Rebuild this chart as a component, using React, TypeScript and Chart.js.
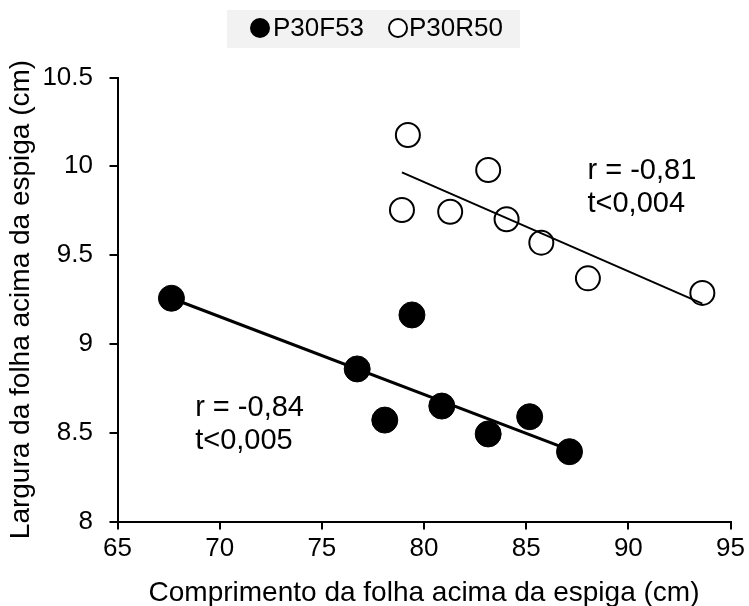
import React, { useEffect, useRef } from "react";
import { Chart, registerables } from "chart.js";

Chart.register(...registerables);

// ---- Data ----
const seriesNames = ["P30F53", "P30R50"];

const f53X = [67.64, 76.73, 78.08, 79.41, 80.87, 83.14, 85.17, 87.12];
const f53Y = [9.257, 8.859, 8.571, 9.163, 8.65, 8.493, 8.59, 8.393];

const r50X = [79.21, 83.14, 78.92, 81.28, 84.04, 85.74, 88.02, 93.62];
const r50Y = [10.176, 9.979, 9.754, 9.744, 9.702, 9.57, 9.369, 9.287];

// fitted trend lines (end points)
const trendF53X = [67.64, 87.12];
const trendF53Y = [9.257, 8.403];
const trendR50X = [78.92, 93.62];
const trendR50Y = [9.966, 9.227];

const xTickValues = [65, 70, 75, 80, 85, 90, 95];
const yTickValues = [8, 8.5, 9, 9.5, 10, 10.5];

const statsF53 = ["r = -0,84", "t<0,005"];
const statsR50 = ["r = -0,81", "t<0,004"];

const xTitle = "Comprimento da folha acima da espiga (cm)";
const yTitle = "Largura da folha acima da espiga (cm)";

// ---- helpers ----
const toPoints = (xs: number[], ys: number[]) => xs.map((x, i) => ({ x, y: ys[i] }));

const FONT = '"Liberation Sans", Arial, sans-serif';

// annotation placement (in data units)
const annotations = [
  { lines: statsF53, x: 68.8, y: 8.639 },
  { lines: statsR50, x: 88.0, y: 9.974 },
];

const annotationPlugin = {
  id: "statsText",
  afterDatasetsDraw(chart: any) {
    const { ctx, scales } = chart;
    ctx.save();
    ctx.fillStyle = "#000";
    ctx.font = `29px ${FONT}`;
    ctx.textAlign = "left";
    ctx.textBaseline = "middle";
    annotations.forEach((a) => {
      const px = scales.x.getPixelForValue(a.x);
      const py = scales.y.getPixelForValue(a.y);
      a.lines.forEach((t, i) => ctx.fillText(t, px, py + i * 33));
    });
    ctx.restore();
  },
};

const legendPlugin = {
  id: "boxLegend",
  afterDraw(chart: any) {
    const { ctx } = chart;
    ctx.save();
    ctx.fillStyle = "#f2f2f2";
    ctx.fillRect(227, 10, 293, 38);
    const cy = 28;
    ctx.font = `26px ${FONT}`;
    ctx.textBaseline = "middle";
    ctx.textAlign = "left";
    // item 1: filled circle
    ctx.beginPath();
    ctx.arc(260, cy, 10, 0, Math.PI * 2);
    ctx.fillStyle = "#000";
    ctx.fill();
    ctx.fillText(seriesNames[0], 273, cy + 1);
    // item 2: open circle
    ctx.beginPath();
    ctx.arc(398, cy, 9, 0, Math.PI * 2);
    ctx.fillStyle = "#fff";
    ctx.fill();
    ctx.lineWidth = 2;
    ctx.strokeStyle = "#000";
    ctx.stroke();
    ctx.fillStyle = "#000";
    ctx.fillText(seriesNames[1], 409, cy + 1);
    ctx.restore();
  },
};

export default function App() {
  const ref = useRef<HTMLCanvasElement | null>(null);

  useEffect(() => {
    if (!ref.current) return;
    Chart.defaults.font.family = FONT;
    Chart.defaults.color = "#000";

    const chart = new Chart(ref.current, {
      type: "scatter",
      data: {
        datasets: [
          {
            type: "line",
            label: seriesNames[0] + " trend",
            data: toPoints(trendF53X, trendF53Y),
            borderColor: "#000",
            borderWidth: 3,
            pointRadius: 0,
            fill: false,
            order: 0,
          } as any,
          {
            type: "line",
            label: seriesNames[1] + " trend",
            data: toPoints(trendR50X, trendR50Y),
            borderColor: "#000",
            borderWidth: 2,
            pointRadius: 0,
            fill: false,
            order: 0,
          } as any,
          {
            label: seriesNames[0],
            data: toPoints(f53X, f53Y),
            backgroundColor: "#000",
            borderColor: "#000",
            borderWidth: 1,
            pointRadius: 13,
            order: 1,
          },
          {
            label: seriesNames[1],
            data: toPoints(r50X, r50Y),
            backgroundColor: "rgba(255,255,255,0)",
            borderColor: "#000",
            borderWidth: 2,
            pointRadius: 12,
            order: 1,
          },
        ],
      },
      options: {
        animation: false,
        responsive: false,
        devicePixelRatio: 1,
        layout: { padding: { top: 77.5, right: 15.5, bottom: 0, left: 0 } },
        plugins: {
          legend: { display: false },
          tooltip: { enabled: false },
        },
        scales: {
          x: {
            type: "linear",
            min: 65,
            max: 95,
            afterBuildTicks: (s: any) => {
              s.ticks = xTickValues.map((v) => ({ value: v }));
            },
            afterFit: (s: any) => {
              s.height = 84.5;
            },
            ticks: {
              font: { size: 26 },
              padding: 4,
              color: "#000",
              callback: (v: any) => String(v),
            },
            grid: {
              display: true,
              drawOnChartArea: false,
              drawTicks: true,
              tickLength: 8,
              color: "#000",
              lineWidth: 2,
            },
            border: { display: true, color: "#000", width: 2 },
            title: {
              display: true,
              text: xTitle,
              font: { size: 28, lineHeight: 1 },
              padding: { top: 0, bottom: -1 },
              color: "#000",
            },
          },
          y: {
            type: "linear",
            min: 8,
            max: 10.5,
            afterBuildTicks: (s: any) => {
              s.ticks = yTickValues.map((v) => ({ value: v }));
            },
            afterFit: (s: any) => {
              s.width = 117.5;
            },
            ticks: {
              font: { size: 26 },
              padding: 16.5,
              color: "#000",
              callback: (v: any) => String(v),
            },
            grid: {
              display: true,
              drawOnChartArea: false,
              drawTicks: true,
              tickLength: 8,
              color: "#000",
              lineWidth: 2,
            },
            border: { display: true, color: "#000", width: 2 },
            title: {
              display: true,
              text: yTitle,
              font: { size: 28, lineHeight: 1 },
              padding: { top: 7, bottom: 0 },
              color: "#000",
            },
          },
        },
      },
      plugins: [annotationPlugin, legendPlugin],
    });

    return () => chart.destroy();
  }, []);

  return (
    <div
      style={{
        position: "fixed",
        left: 0,
        top: 0,
        width: 749,
        height: 606,
        background: "#fff",
      }}
    >
      <canvas ref={ref} width={749} height={606} style={{ display: "block" }} />
    </div>
  );
}
